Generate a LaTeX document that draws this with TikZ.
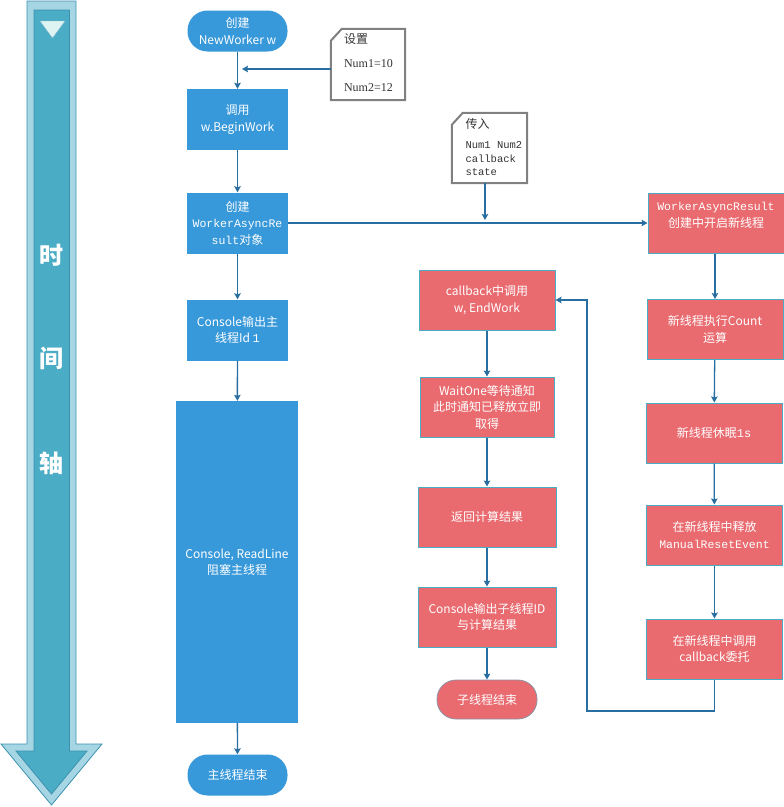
\documentclass[tikz,border=0pt]{standalone}
\usepackage{fontspec}
\setmainfont{Noto Sans CJK SC}
\newfontfamily\mono{Liberation Mono}
\newfontfamily\serifn{Liberation Serif}
\usetikzlibrary{arrows.meta,calc}
\definecolor{myblue}{RGB}{55,152,218}
\definecolor{myred}{RGB}{233,107,112}
\definecolor{redborder}{RGB}{75,172,198}
\definecolor{linecol}{RGB}{40,110,160}
\definecolor{tlouter}{RGB}{166,214,228}
\definecolor{tlborder}{RGB}{60,145,175}
\definecolor{tlinner}{RGB}{75,172,198}
\definecolor{tltri}{RGB}{222,244,242}
\definecolor{notegray}{RGB}{128,128,128}
\tikzset{
  base/.style={align=center, inner sep=0pt, text=white, font=\fontsize{12}{16.5}\selectfont},
  bluebox/.style={base, rectangle, fill=myblue, minimum width=101pt, minimum height=61pt},
  blueterm/.style={base, rectangle, fill=myblue, rounded corners=20pt, minimum width=100pt, minimum height=41pt},
  redbox/.style={base, rectangle, fill=myred, draw=redborder, line width=1pt, minimum width=136pt, minimum height=60pt},
  redterm/.style={base, rectangle, fill=myred, draw=redborder!60!myred, line width=0.8pt, rounded corners=19pt, minimum width=100pt, minimum height=39pt},
  notebox/.style={rectangle, inner sep=0pt},
  notetext/.style={anchor=north west, inner sep=0pt, align=left, text=black!80},
  notedraw/.style={draw=notegray, line width=2pt, fill=white},
  arr/.style={draw=linecol, line width=1.3pt, -{Stealth[length=6pt,width=6.5pt,inset=1pt]}},
  conn/.style={draw=linecol, line width=1.3pt},
  tltext/.style={text=white, font=\fontsize{24}{24}\selectfont\bfseries, inner sep=0pt}
}
\begin{document}
\begin{tikzpicture}[x=1pt,y=-1pt]
\useasboundingbox (0,0) rectangle (784,807);
% timeline arrow
\draw[fill=tlouter, draw=tlborder, line width=0.8pt, line join=miter]
  (27,1) -- (76,1) -- (76,744) -- (102,744) -- (51.5,805) -- (1,744) -- (27,744) -- cycle;
\draw[fill=tlinner, draw=tlborder, line width=0.8pt, line join=miter]
  (34,10) -- (69.5,10) -- (69.5,751) -- (87,751) -- (51.5,794) -- (16,751) -- (34,751) -- cycle;
\fill[tltri, draw=tlborder!60, line width=0.4pt] (40,21) -- (65,21) -- (52.5,38) -- cycle;
\node[tltext] (t1) at (51,255) {时};
\node[tltext] (t2) at (51,358) {间};
\node[tltext] (t3) at (51,463) {轴};

% left column (main thread)
\node[blueterm] (s0) at (237.5,31) {创建\\NewWorker w};
\node[bluebox] (b1) at (237.5,119.5) {调用\\w.BeginWork};
\node[bluebox] (b2) at (237.5,223) {创建\\{\mono\fontsize{11.5}{16.5}\selectfont WorkerAsyncRe}\\{\mono\fontsize{11.5}{16.5}\selectfont sult}对象};
\node[bluebox] (b3) at (237.5,330) {Console输出主\\线程Id {\mono 1}};
\node[bluebox, minimum width=122pt, minimum height=322pt] (b4) at (237,562) {Console, ReadLine\\阻塞主线程};
\node[blueterm] (e0) at (237.5,775) {主线程结束};

\draw[arr] (s0) -- (b1);
\draw[arr] (b1) -- (b2);
\draw[arr] (b2) -- (b3);
\draw[arr] (b3) -- (b4);
\draw[arr] (b4) -- (e0);

% note 1
\node[notebox, minimum width=74pt, minimum height=71pt] (n1) at (368,64.5) {};
\draw[notedraw] (n1.south west) -- ([yshift=-12pt]n1.north west) -- ([xshift=11pt]n1.north west) -- (n1.north east) -- (n1.south east) -- cycle;
\node[notetext, font=\fontsize{12}{16}\selectfont] (n1t) at ([xshift=13pt,yshift=-5pt]n1.north west)
  {设置\\[7.5pt]{\serifn Num1=10}\\[8.5pt]{\serifn Num2=12}};
\coordinate (j1) at (242,69);
\draw[arr] (n1.west |- j1) -- (j1);

% horizontal connector
\node[redbox] (r1) at (716,223) {{\mono\fontsize{11.5}{16.5}\selectfont WorkerAsyncResult}\\创建中开启新线程\\\mbox{}};
\draw[arr] (b2.east) -- (r1.west);

% note 2
\node[notebox, minimum width=75pt, minimum height=70pt] (n2) at (489.5,148) {};
\draw[notedraw] (n2.south west) -- ([yshift=-12pt]n2.north west) -- ([xshift=11pt]n2.north west) -- (n2.north east) -- (n2.south east) -- cycle;
\node[notetext, font=\mono\fontsize{10.5}{13.5}\selectfont] (n2t) at ([xshift=13.5pt,yshift=-5pt]n2.north west)
  {{\normalfont\fontsize{12}{13.5}\selectfont 传入}\\[7pt]Num1 Num2\\callback\\state};
\coordinate (j2) at (485,220);
\draw[arr] (n2.south -| j2) -- (j2);

% right column (new thread)
\node[redbox] (r2) at (715,329.5) {新线程执行Count\\运算};
\node[redbox] (r3) at (714,433) {新线程休眠{\mono 1s}};
\node[redbox] (r4) at (714.5,535) {在新线程中释放\\{\mono\fontsize{11.5}{16.5}\selectfont ManualResetEvent}};
\node[redbox] (r5) at (714.5,649) {在新线程中调用\\callback委托};
\draw[arr] (r1.south -| r2.north) -- (r2.north);
\draw[arr] (r2) -- (r3);
\draw[arr] (r3) -- (r4);
\draw[arr] (r4) -- (r5);

% middle column (callback)
\node[redbox] (m1) at (487,300) {callback中调用\\w, EndWork};
\node[redbox, minimum width=134pt] (m2) at (487,407) {WaitOne等待通知\\此时通知已释放立即\\取得};
\node[redbox, minimum width=138pt] (m3) at (487,517) {返回计算结果};
\node[redbox, minimum width=138pt] (m4) at (487,617) {Console输出子线程ID\\与计算结果};
\node[redterm] (m5) at (487,699.5) {子线程结束};
\draw[arr] (m1) -- (m2);
\draw[arr] (m2) -- (m3);
\draw[arr] (m3) -- (m4);
\draw[arr] (m4) -- (m5);

% loop back
\coordinate (loopc) at (587,711);
\draw[arr] (r5.south) |- (loopc) |- (m1.east);
\end{tikzpicture}
\end{document}
